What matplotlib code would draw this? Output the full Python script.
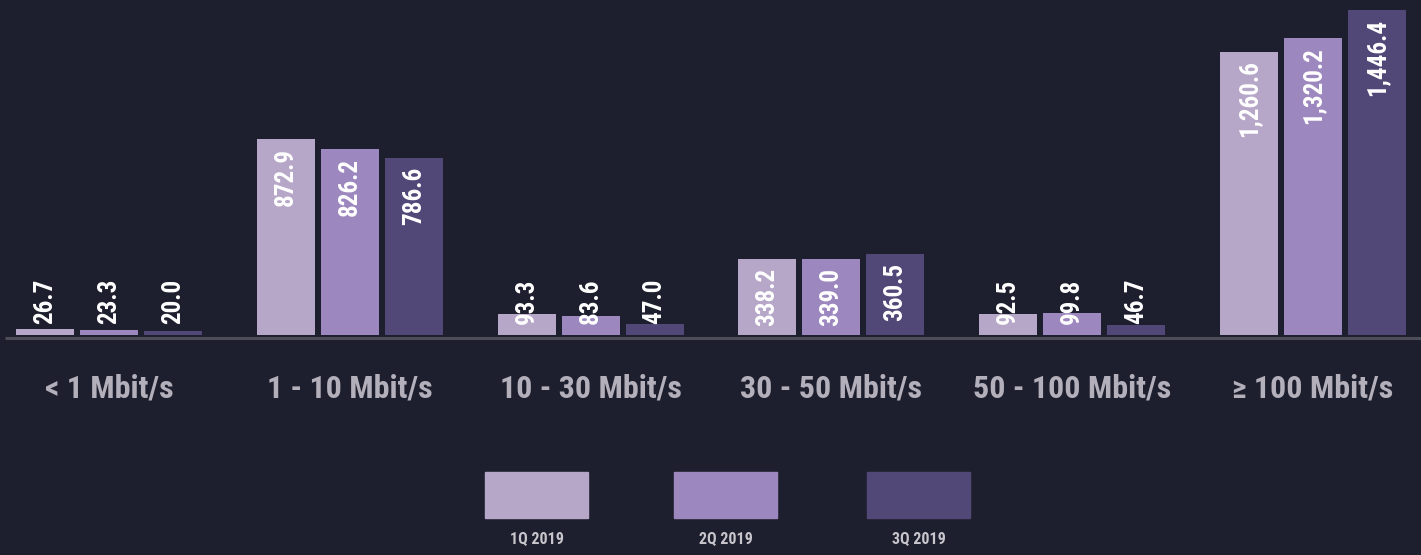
import matplotlib.pyplot as plt
from matplotlib.patches import Rectangle
import numpy as np

categories = ['< 1 Mbit/s', '1 - 10 Mbit/s', '10 - 30 Mbit/s', '30 - 50 Mbit/s',
              '50 - 100 Mbit/s', '\u2265 100 Mbit/s']
series_names = ['1Q 2019', '2Q 2019', '3Q 2019']
q1 = [26.7, 872.9, 93.3, 338.2, 92.5, 1260.6]
q2 = [23.3, 826.2, 83.6, 339.0, 99.8, 1320.2]
q3 = [20.0, 786.6, 47.0, 360.5, 46.7, 1446.4]
colors = ['#b6a7c8', '#9d87bf', '#524878']

bg = '#1e1f2e'
plt.rcParams['font.family'] = ['Roboto Condensed', 'Roboto', 'DejaVu Sans']

W, H = 1421, 555
fig = plt.figure(figsize=(W / 100, H / 100), dpi=100, facecolor=bg)

# main axes: bars sit at 335 px from top, scale ~0.2248 px per unit
scale = 0.2248
base_px = 335
ax = fig.add_axes([0, (H - 345) / H, 1, 345 / H])
ax.set_facecolor(bg)
ax.axis('off')

step = 240.8
x = np.arange(len(categories))
width = 58 / step
offset = 64 / step
ax.set_xlim(-109 / step, (W - 109) / step)
ax.set_ylim(-10 / scale, base_px / scale)

ax.plot([(5 - 109) / step, (W - 109) / step], [-3 / scale] * 2,
        color='#4d4d57', lw=2.2, solid_capstyle='butt')

for i, (vals, c) in enumerate(zip([q1, q2, q3], colors)):
    xs = x + (i - 1) * offset
    ax.bar(xs, vals, width=width, color=c)
    for xi, v in zip(xs, vals):
        label = f'{v:,.1f}'
        if v * scale > 50:
            ax.annotate(label, (xi, v), xytext=(0, -9 * 0.72), textcoords='offset points',
                        rotation=90, ha='center', va='top', color='white',
                        fontsize=18, fontweight='bold')
        else:
            ax.annotate(label, (xi, 0), xytext=(0, 11 * 0.72), textcoords='offset points',
                        rotation=90, ha='center', va='bottom', color='white',
                        fontsize=18, fontweight='bold')

for xi, cat in zip(x, categories):
    ax.annotate(cat, (xi, 0), xytext=(0, -54 * 0.72), textcoords='offset points',
                ha='center', va='center', color='#b3b0bb', fontsize=23,
                fontweight='bold')

# legend: boxes with labels underneath
leg = fig.add_axes([0, 0, 1, 1])
leg.set_xlim(0, W)
leg.set_ylim(H, 0)
leg.axis('off')
leg_x = [485, 674, 867]
for lx, name, c in zip(leg_x, series_names, colors):
    leg.add_patch(Rectangle((lx, 472), 103, 46, color=c))
    leg.text(lx + 51.5, 539, name, ha='center', va='center', color='#c8c6cc',
             fontsize=11.5, fontweight='bold')

fig.savefig('out.png', dpi=100, facecolor=bg)
